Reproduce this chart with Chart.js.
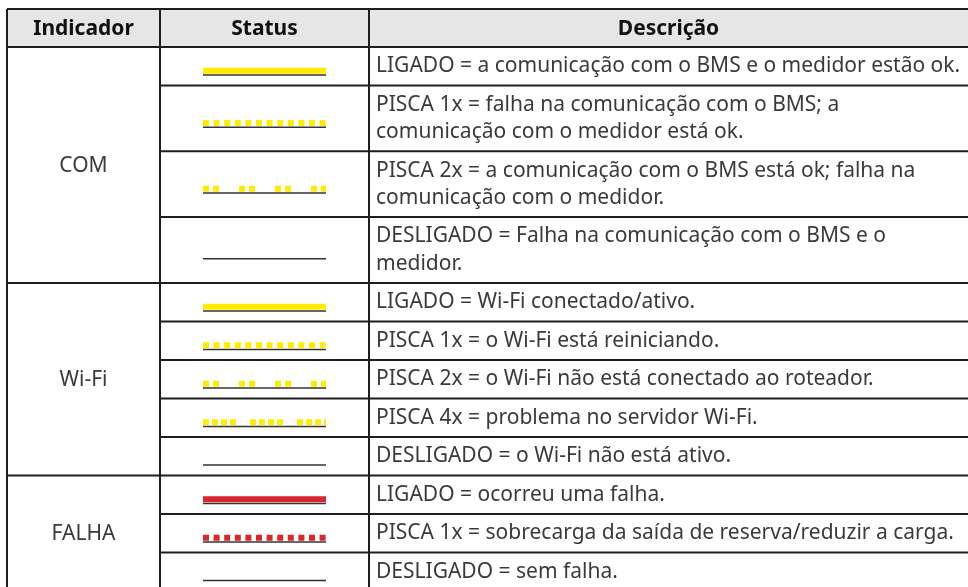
<!DOCTYPE html>
<html>
<head>
<meta charset="utf-8">
<script src="https://cdn.jsdelivr.net/npm/chart.js@4/dist/chart.umd.min.js"></script>
<style>
  html, body { margin: 0; padding: 0; background: #fff; }
  #wrap { width: 968px; height: 587px; }
</style>
</head>
<body>
<div id="wrap"><canvas id="led-table" width="968" height="587"></canvas></div>
<script>
// table content
const headers = ['Indicador', 'Status', 'Descrição'];
const indicators = ['COM', 'Wi-Fi', 'FALHA'];
const rowIndicator = [0, 0, 0, 0, 1, 1, 1, 1, 1, 2, 2, 2];
const rowStatus = ['on', 'blink1', 'blink2', 'off', 'on', 'blink1', 'blink2', 'blink4', 'off', 'on', 'blink1', 'off'];
const rowDescription = [
    ['LIGADO = a comunicação com o BMS e o medidor estão ok.'],
    ['PISCA 1x = falha na comunicação com o BMS; a', 'comunicação com o medidor está ok.'],
    ['PISCA 2x = a comunicação com o BMS está ok; falha na', 'comunicação com o medidor.'],
    ['DESLIGADO = Falha na comunicação com o BMS e o', 'medidor.'],
    ['LIGADO = Wi-Fi conectado/ativo.'],
    ['PISCA 1x = o Wi-Fi está reiniciando.'],
    ['PISCA 2x = o Wi-Fi não está conectado ao roteador.'],
    ['PISCA 4x = problema no servidor Wi-Fi.'],
    ['DESLIGADO = o Wi-Fi não está ativo.'],
    ['LIGADO = ocorreu uma falha.'],
    ['PISCA 1x = sobrecarga da saída de reserva/reduzir a carga.'],
    ['DESLIGADO = sem falha.'],
];

// look
const ledColour = ['#ffec00', '#ffec00', '#d8282e'];
const dashFor = {
    on: [],
    blink1: [6, 4.6],
    blink2: [6, 4, 6, 20],
    blink4: [6, 3, 6, 3, 6, 3, 6, 14],
    off: null,
};
const colX = [7, 160, 369, 968];
const tableTop = 9;
const headerH = 38;
const cellPad = 5.6;
const lineH = 27.3;
const ledFrom = 203;
const ledTo = 326;
const bodyFont = '21px "Noto Sans"';
const headFont = 'bold 21px "Noto Sans"';

// row layout from the line count of each description
const rowTop = [];
let yy = tableTop + headerH;
rowDescription.forEach((lines) => {
    rowTop.push(yy);
    yy += cellPad * 2 + lineH * lines.length;
});
rowTop.push(yy);

const datasets = [];
rowStatus.forEach((mode, i) => {
    const mid = (rowTop[i] + rowTop[i + 1]) / 2;
    if (dashFor[mode]) {
        datasets.push({
            data: [{ x: ledFrom, y: mid + 4.5 }, { x: ledTo, y: mid + 4.5 }],
            borderColor: ledColour[rowIndicator[i]],
            borderWidth: 6,
            borderDash: dashFor[mode],
            borderCapStyle: 'butt',
        });
    }
    datasets.push({
        data: [{ x: ledFrom, y: mid + 8.8 }, { x: ledTo, y: mid + 8.8 }],
        borderColor: '#333',
        borderWidth: 1.5,
        borderCapStyle: 'butt',
    });
});

const tablePlugin = {
    id: 'tablePlugin',
    beforeDatasetsDraw(chart) {
        const { ctx, scales: { x, y } } = chart;
        const px = (v) => x.getPixelForValue(v);
        const py = (v) => y.getPixelForValue(v);
        ctx.save();
        ctx.fillStyle = '#e6e6e6';
        ctx.fillRect(px(colX[0]), py(tableTop), px(colX[3]) - px(colX[0]), py(tableTop + headerH) - py(tableTop));

        ctx.textBaseline = 'middle';
        ctx.textAlign = 'center';
        ctx.font = headFont;
        ctx.fillStyle = '#111';
        headers.forEach((h, c) => {
            ctx.fillText(h, px((colX[c] + colX[c + 1]) / 2), py(tableTop + headerH / 2 + 1));
        });

        ctx.font = bodyFont;
        ctx.fillStyle = '#3a3a3a';
        indicators.forEach((name, g) => {
            const rows = rowIndicator.map((v, i) => (v === g ? i : -1)).filter((i) => i >= 0);
            const t = rowTop[rows[0]];
            const b = rowTop[rows[rows.length - 1] + 1];
            ctx.fillText(name, px((colX[0] + colX[1]) / 2), py((t + b) / 2 + 1));
        });

        ctx.textAlign = 'left';
        rowDescription.forEach((lines, i) => {
            lines.forEach((line, k) => {
                ctx.fillText(line, px(colX[2] + 7), py(rowTop[i] + cellPad + lineH * (k + 0.5)));
            });
        });
        ctx.restore();
    },
    afterDatasetsDraw(chart) {
        const { ctx, scales: { x, y } } = chart;
        const px = (v) => x.getPixelForValue(v);
        const py = (v) => y.getPixelForValue(v);
        const bottom = rowTop[rowTop.length - 1];
        ctx.save();
        ctx.strokeStyle = '#1e1e1e';
        ctx.lineWidth = 2;
        ctx.beginPath();
        // the right edge of the table is cut off by the frame
        colX.slice(0, 3).forEach((cx) => {
            ctx.moveTo(px(cx), py(tableTop));
            ctx.lineTo(px(cx), py(bottom));
        });
        ctx.moveTo(px(colX[0]), py(tableTop));
        ctx.lineTo(px(colX[3]), py(tableTop));
        ctx.moveTo(px(colX[0]), py(tableTop + headerH));
        ctx.lineTo(px(colX[3]), py(tableTop + headerH));
        rowTop.forEach((t, i) => {
            if (i === 0) return;
            const groupEnd = i === rowTop.length - 1 || rowIndicator[i] !== rowIndicator[i - 1];
            ctx.moveTo(px(groupEnd ? colX[0] : colX[1]), py(t));
            ctx.lineTo(px(colX[3]), py(t));
        });
        ctx.stroke();
        ctx.restore();
    },
};

new Chart(document.getElementById('led-table'), {
    type: 'line',
    data: { datasets },
    options: {
        responsive: false,
        animation: false,
        layout: { padding: 0 },
        elements: { point: { radius: 0 }, line: { tension: 0, fill: false } },
        plugins: { legend: { display: false }, tooltip: { enabled: false } },
        scales: {
            x: { type: 'linear', min: 0, max: 968, display: false },
            y: { type: 'linear', min: 0, max: 587, reverse: true, display: false },
        },
    },
    plugins: [tablePlugin],
});
</script>
</body>
</html>
